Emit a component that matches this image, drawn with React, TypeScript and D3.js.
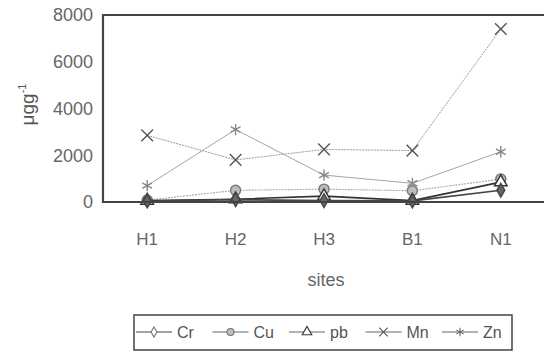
import React from 'react';
import * as d3 from 'd3';

// sites on the x axis
const sites = ['H1', 'H2', 'H3', 'B1', 'N1'];
const yTicks = [0, 2000, 4000, 6000, 8000];

// metal concentrations per site (ug/g)
const cr = [40, 100, 60, 50, 500];
const cu = [80, 500, 550, 480, 980];
const pb = [60, 120, 250, 60, 850];
const mn = [2850, 1800, 2250, 2200, 7400];
const zn = [700, 3100, 1150, 800, 2150];

const seriesNames = ['Cr', 'Cu', 'pb', 'Mn', 'Zn'];

const W = 544;
const H = 360;
const plotLeft = 103;
const plotTop = 15;
const plotBottom = 202;
const plotRight = 545;

type Style = {
  symbol: d3.SymbolType;
  size: number;
  fill: string;
  stroke: string;
  line: string;
  lineWidth: number;
  dash?: string;
};

const styles: Style[] = [
  { symbol: d3.symbolDiamond, size: 55, fill: '#666', stroke: '#444', line: '#444', lineWidth: 1.6 },
  { symbol: d3.symbolCircle, size: 80, fill: '#bdbdbd', stroke: '#777', line: '#a8a8a8', lineWidth: 1.1, dash: '2,1' },
  { symbol: d3.symbolTriangle, size: 70, fill: '#fff', stroke: '#333', line: '#333', lineWidth: 1.6 },
  { symbol: d3.symbolX, size: 90, fill: 'none', stroke: '#555', line: '#9a9a9a', lineWidth: 1, dash: '2,1' },
  { symbol: d3.symbolAsterisk, size: 90, fill: 'none', stroke: '#888', line: '#a5a5a5', lineWidth: 1 },
];

const legendStyles: Style[] = [
  { ...styles[0], fill: '#fff', stroke: '#777', size: 30 },
  { ...styles[1], size: 40, dash: undefined, line: '#666' },
  { ...styles[2], size: 40, line: '#666', lineWidth: 1 },
  { ...styles[3], size: 50, line: '#666', dash: undefined },
  { ...styles[4], size: 50, line: '#666', stroke: '#666' },
];

export default function App() {
  const x = d3.scalePoint<string>().domain(sites).range([plotLeft, plotRight]).padding(0.5);
  const y = d3.scaleLinear().domain([0, 8000]).range([plotBottom, plotTop]);
  const allSeries = [cr, cu, pb, mn, zn];
  // draw order: Mn, Zn behind, then Cu, pb, Cr
  const order = [3, 4, 1, 2, 0];

  const line = d3
    .line<number>()
    .x((_, i) => x(sites[i]) as number)
    .y((d) => y(d));

  const legendX = d3.scaleLinear().domain([0, 1]).range([132, 208.5]);
  const font = "'Liberation Sans', Arial, sans-serif";

  return (
    <div style={{ position: 'absolute', left: 0, top: 0 }}>
      <svg width={W} height={H} style={{ display: 'block', background: '#fff' }}>
        {/* y tick labels */}
        {yTicks.map((t) => (
          <text
            key={t}
            x={plotLeft - 10}
            y={y(t)}
            dy="0.36em"
            textAnchor="end"
            fontFamily={font}
            fontSize={18}
            fill="#666"
          >
            {t}
          </text>
        ))}
        <text
          transform={`translate(27,${(plotTop + plotBottom) / 2 - 4}) rotate(-90)`}
          textAnchor="middle"
          fontFamily={font}
          fontSize={19}
          fill="#555"
          dy="0.35em"
        >
          μgg<tspan dy="-8" fontSize={11}>-1</tspan>
        </text>

        {/* x tick labels */}
        {sites.map((s) => (
          <text
            key={s}
            x={x(s)}
            y={239}
            dy="0.36em"
            textAnchor="middle"
            fontFamily={font}
            fontSize={17}
            fill="#666"
          >
            {s}
          </text>
        ))}
        <text x={326} y={280} dy="0.36em" textAnchor="middle" fontFamily={font} fontSize={18} fill="#666">
          sites
        </text>

        {/* series */}
        {order.map((k) => {
          const st = styles[k];
          const vals = allSeries[k];
          return (
            <g key={seriesNames[k]}>
              <path
                d={line(vals) || ''}
                fill="none"
                stroke={st.line}
                strokeWidth={st.lineWidth}
                strokeDasharray={st.dash}
              />
              {vals.map((v, i) => (
                <path
                  key={i}
                  transform={`translate(${x(sites[i])},${y(v)})`}
                  d={d3.symbol(st.symbol, st.size)() || ''}
                  fill={st.fill}
                  stroke={st.stroke}
                  strokeWidth={1.4}
                />
              ))}
            </g>
          );
        })}

        {/* frame */}
        <path
          d={`M${plotRight},${plotTop}H${plotLeft}V${plotBottom}H${plotRight}`}
          fill="none"
          stroke="#444"
          strokeWidth={2.2}
        />

        {/* legend */}
        <rect x={134} y={315} width={378} height={35} fill="#fff" stroke="#444" strokeWidth={1.5} />
        {seriesNames.map((name, i) => {
          const st = legendStyles[i];
          const x0 = legendX(i);
          return (
            <g key={name}>
              <line x1={x0 + 4} x2={x0 + 40} y1={332} y2={332} stroke={st.line} strokeWidth={1} />
              <path
                transform={`translate(${x0 + 22},332)`}
                d={d3.symbol(st.symbol, st.size)() || ''}
                fill={st.fill}
                stroke={st.stroke}
                strokeWidth={1.1}
              />
              <text x={x0 + 45} y={332} dy="0.36em" fontFamily={font} fontSize={16} fill="#555">
                {name}
              </text>
            </g>
          );
        })}
      </svg>
    </div>
  );
}
